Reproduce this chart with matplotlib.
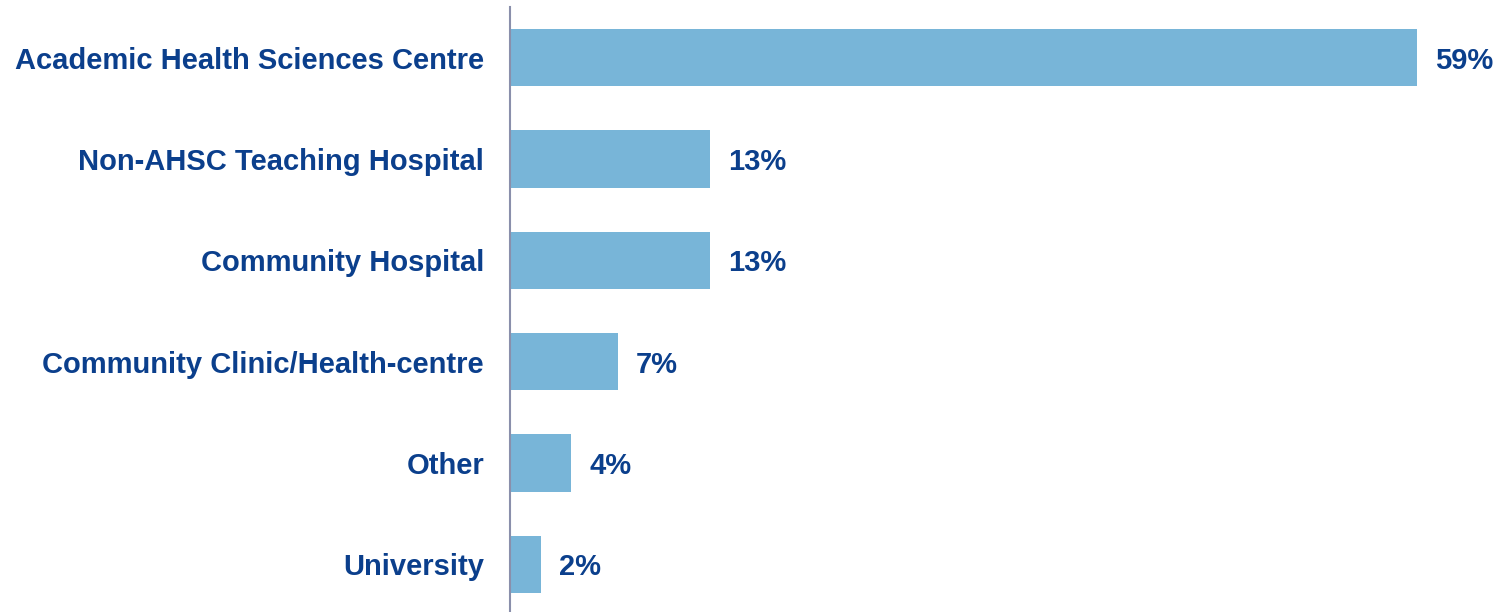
import matplotlib
matplotlib.use("Agg")
import matplotlib.pyplot as plt

categories = [
    "Academic Health Sciences Centre",
    "Non-AHSC Teaching Hospital",
    "Community Hospital",
    "Community Clinic/Health-centre",
    "Other",
    "University",
]
values = [59, 13, 13, 7, 4, 2]
value_labels = ["59%", "13%", "13%", "7%", "4%", "2%"]

bar_color = "#78b5d8"
text_color = "#0b3f8c"
axis_color = "#8a8fab"

plt.rcParams["font.family"] = ["Liberation Sans", "DejaVu Sans"]

fig = plt.figure(figsize=(14.97, 6.12), dpi=100)
ax = fig.add_axes([510 / 1497, 0.0, 1 - 510 / 1497, 1 - 7 / 612])

y = list(range(len(categories)))
ax.barh(y, values, height=0.565, color=bar_color)

ax.set_xlim(0, 64.2)
ax.set_ylim(5.47, -0.5)

for yi, v, lab in zip(y, values, value_labels):
    ax.annotate(lab, (v, yi), xytext=(18, -3), textcoords="offset pixels",
                va="center", ha="left", fontsize=21, fontweight="bold",
                color=text_color)

ax.set_yticks(y)
ax.set_yticklabels(categories, fontsize=21, fontweight="bold", color=text_color,
                   va="center_baseline")
ax.tick_params(axis="y", length=0, pad=26 * 72 / 100)
ax.set_xticks([])

for side in ["top", "right", "bottom"]:
    ax.spines[side].set_visible(False)
ax.spines["left"].set_color(axis_color)
ax.spines["left"].set_linewidth(1.5)

fig.savefig("out.png", dpi=100)
